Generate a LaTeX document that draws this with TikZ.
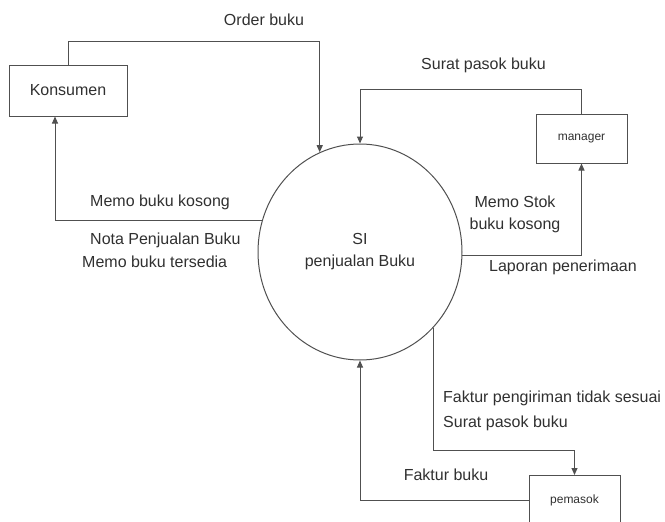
\documentclass[tikz,border=0pt]{standalone}
\usepackage{fontspec}
\setmainfont{Liberation Sans}
\usetikzlibrary{arrows.meta,shapes.geometric}

\begin{document}
\begin{tikzpicture}[x=1pt,y=-1pt,
  kotak/.style={draw=lineDFD, line width=1pt, minimum width=91pt, minimum height=49pt, inner sep=0pt, text=textDFD, font=\fontsize{12}{14}\selectfont},
  alur/.style={draw=lineDFD, line width=1pt, -{Triangle[width=6pt,length=7pt]}},
  teks/.style={text=textDFD, inner sep=0pt, font=\fontsize{16}{22}\selectfont}]

\definecolor{lineDFD}{HTML}{505050}
\definecolor{textDFD}{HTML}{303030}

\useasboundingbox (0,0) rectangle (665,522);

% entitas dan proses
\node[kotak, minimum width=118pt, minimum height=51pt, font=\fontsize{16}{20}\selectfont] (konsumen) at (68,90.5) {Konsumen};
\node[kotak] (manager) at (581.5,138.5) {manager};
\node[kotak] (pemasok) at (574.5,500) {pemasok};
\node[draw=lineDFD, line width=1pt, ellipse, minimum width=204pt, minimum height=216pt, teks, align=center] (proses) at (360,252) {SI\\penjualan Buku};

% aliran data
\draw[alur] (konsumen.north) -- ++(0,-23) -| (proses.112);
\draw[alur] (proses.162) -| ([xshift=-13pt]konsumen.south);
\draw[alur] (manager.north) -- ++(0,-24) -| (proses.north);
\draw[alur] (proses.-2) -| (manager.south);
\draw[alur] (proses.-46) |- ([yshift=25pt]pemasok.north) -- (pemasok.north);
\draw[alur] (pemasok.west) -| (proses.south);

% label
\node[teks] (lOrder) at (264,20) {Order buku};
\node[teks, anchor=west] (lMemoKosong) at (90,202) {Memo buku kosong};
\node[teks, anchor=west] (lNota) at (90,240) {Nota Penjualan Buku};
\node[teks, anchor=west] (lMemoTersedia) at (82,262) {Memo buku tersedia};
\node[teks] (lSuratAtas) at (483.5,65) {Surat pasok buku};
\node[teks, align=center] (lMemoStok) at (515,214) {Memo Stok\\buku kosong};
\node[teks] (lLaporan) at (563,267) {Laporan penerimaan};
\node[teks, anchor=west] (lFakturKirim) at (443,398) {Faktur pengiriman tidak sesuai};
\node[teks, anchor=west] (lSuratBawah) at (443,423) {Surat pasok buku};
\node[teks] (lFaktur) at (446,475) {Faktur buku};
\end{tikzpicture}
\end{document}
